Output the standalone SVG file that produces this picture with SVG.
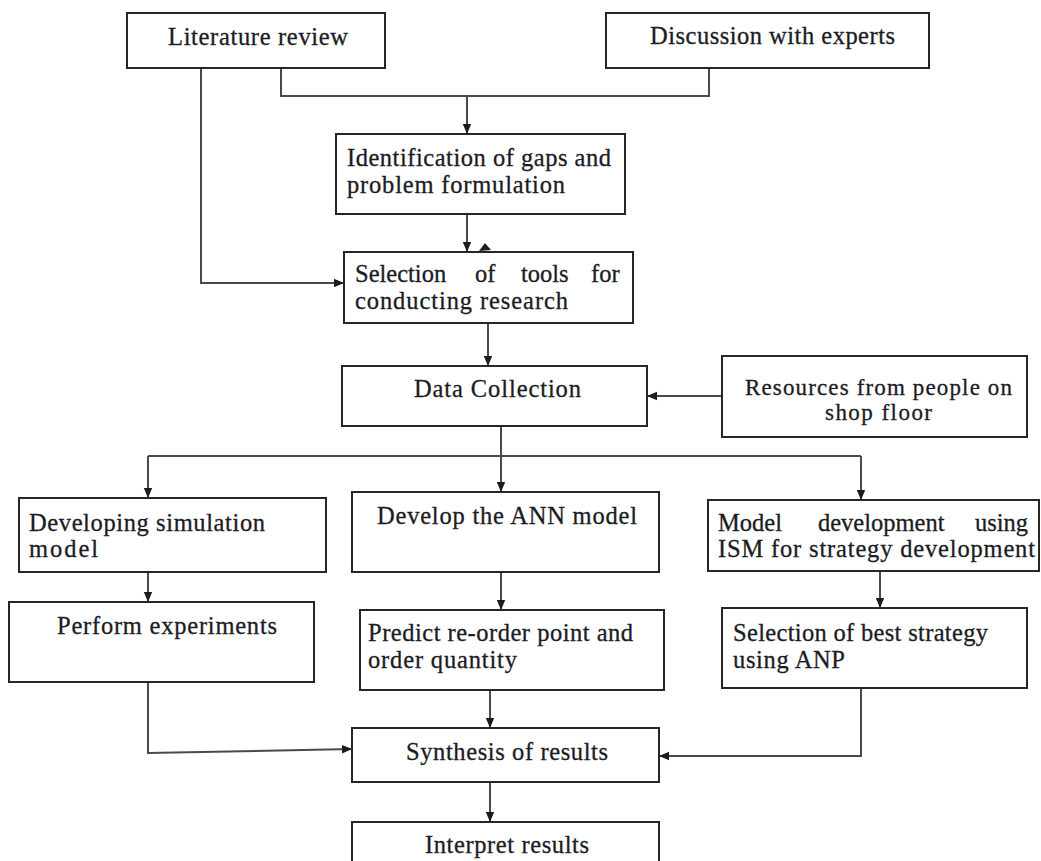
<svg xmlns="http://www.w3.org/2000/svg" width="1041" height="861" viewBox="0 0 1041 861">
  <style>
    .box { fill: #ffffff; stroke: #262626; stroke-width: 2; }
    .lbl { font-family: "Liberation Serif", "Times New Roman", serif; font-size: 24.5px; fill: #1c1c24; stroke: #1c1c24; stroke-width: 0.3; }
    .sm { font-size: 23px; }
    .cn { fill: none; stroke: #4a4a4a; stroke-width: 2; }
    .arr { marker-end: url(#head); }
  </style>
  <defs>
    <marker id="head" markerUnits="userSpaceOnUse" markerWidth="10" markerHeight="10" refX="10" refY="5" orient="auto">
      <path d="M0,0.8 L10,5 L0,9.2 z" fill="#1c1c1c"/>
    </marker>
  </defs>
  <rect width="1041" height="861" fill="#ffffff"/>

  <!-- connectors -->
  <g id="connectors">
    <path class="cn arr" d="M201,68 V283 H344"/>
    <path class="cn" d="M281,68 V96 H709 V68"/>
    <path class="cn arr" d="M467,96 V134"/>
    <path class="cn arr" d="M467,214 V252"/>
    <polygon points="479,251 485,243 491,250" fill="#1c1c1c"/>
    <path class="cn arr" d="M488,323 V366"/>
    <path class="cn arr" d="M722,396 H647"/>
    <path class="cn arr" d="M501,426 V492"/>
    <path class="cn arr" d="M148,456 V498"/>
    <path class="cn arr" d="M861,456 V500"/>
    <path class="cn" d="M148,456 H861"/>
    <path class="cn arr" d="M148,572 V602"/>
    <path class="cn arr" d="M501,572 V610"/>
    <path class="cn arr" d="M880,571 V608"/>
    <path class="cn arr" d="M148,682 V753 L352,749"/>
    <path class="cn arr" d="M490,690 V728"/>
    <path class="cn arr" d="M861,688 V756 H659"/>
    <path class="cn arr" d="M490,782 V822"/>
  </g>

  <g id="literature-review">
    <rect class="box" x="127" y="13" width="258" height="55"/>
    <text class="lbl" x="168" y="45" textLength="180">Literature review</text>
  </g>

  <g id="discussion-with-experts">
    <rect class="box" x="606" y="13" width="323" height="55"/>
    <text class="lbl" x="650" y="44" textLength="245">Discussion with experts</text>
  </g>

  <g id="identification-of-gaps">
    <rect class="box" x="336" y="134" width="289" height="80"/>
    <text class="lbl" x="347" y="166" textLength="264">Identification of gaps and</text>
    <text class="lbl" x="347" y="193" textLength="218">problem formulation</text>
  </g>

  <g id="selection-of-tools">
    <rect class="box" x="344" y="252" width="289" height="71"/>
    <!-- justified line: words placed individually -->
    <text class="lbl" y="282"><tspan x="355">Selection</tspan><tspan x="475">of</tspan><tspan x="521">tools</tspan><tspan x="591">for</tspan></text>
    <text class="lbl" x="355" y="309" textLength="213">conducting research</text>
  </g>

  <g id="data-collection">
    <rect class="box" x="342" y="366" width="305" height="60"/>
    <text class="lbl" x="414" y="397" textLength="167">Data Collection</text>
  </g>

  <g id="resources-from-shop-floor">
    <rect class="box" x="722" y="356" width="305" height="81"/>
    <text class="lbl sm" x="745" y="395" textLength="267">Resources from people on</text>
    <text class="lbl sm" x="825" y="420" textLength="107">shop floor</text>
  </g>

  <g id="developing-simulation-model">
    <rect class="box" x="19" y="498" width="307" height="74"/>
    <text class="lbl" x="29" y="531" textLength="236">Developing simulation</text>
    <text class="lbl" x="29" y="557" textLength="69">model</text>
  </g>

  <g id="perform-experiments">
    <rect class="box" x="9" y="602" width="305" height="80"/>
    <text class="lbl" x="57" y="634" textLength="220">Perform experiments</text>
  </g>

  <g id="develop-ann-model">
    <rect class="box" x="352" y="492" width="307" height="80"/>
    <text class="lbl" x="377" y="524" textLength="260">Develop the ANN model</text>
  </g>

  <g id="predict-reorder-point">
    <rect class="box" x="360" y="610" width="304" height="80"/>
    <text class="lbl" x="368" y="641" textLength="265">Predict re-order point and</text>
    <text class="lbl" x="368" y="668" textLength="149">order quantity</text>
  </g>

  <g id="ism-model-development">
    <rect class="box" x="708" y="500" width="331" height="71"/>
    <!-- justified line: words placed individually -->
    <text class="lbl" y="531"><tspan x="718">Model</tspan><tspan x="818">development</tspan><tspan x="975">using</tspan></text>
    <text class="lbl" x="718" y="557" textLength="317">ISM for strategy development</text>
  </g>

  <g id="best-strategy-anp">
    <rect class="box" x="722" y="608" width="305" height="80"/>
    <text class="lbl" x="733" y="641" textLength="255">Selection of best strategy</text>
    <text class="lbl" x="733" y="668" textLength="112">using ANP</text>
  </g>

  <g id="synthesis-of-results">
    <rect class="box" x="352" y="728" width="307" height="54"/>
    <text class="lbl" x="406" y="760" textLength="202">Synthesis of results</text>
  </g>

  <g id="interpret-results">
    <rect class="box" x="352" y="822" width="307" height="60"/>
    <text class="lbl" x="425" y="853" textLength="164">Interpret results</text>
  </g>
</svg>
